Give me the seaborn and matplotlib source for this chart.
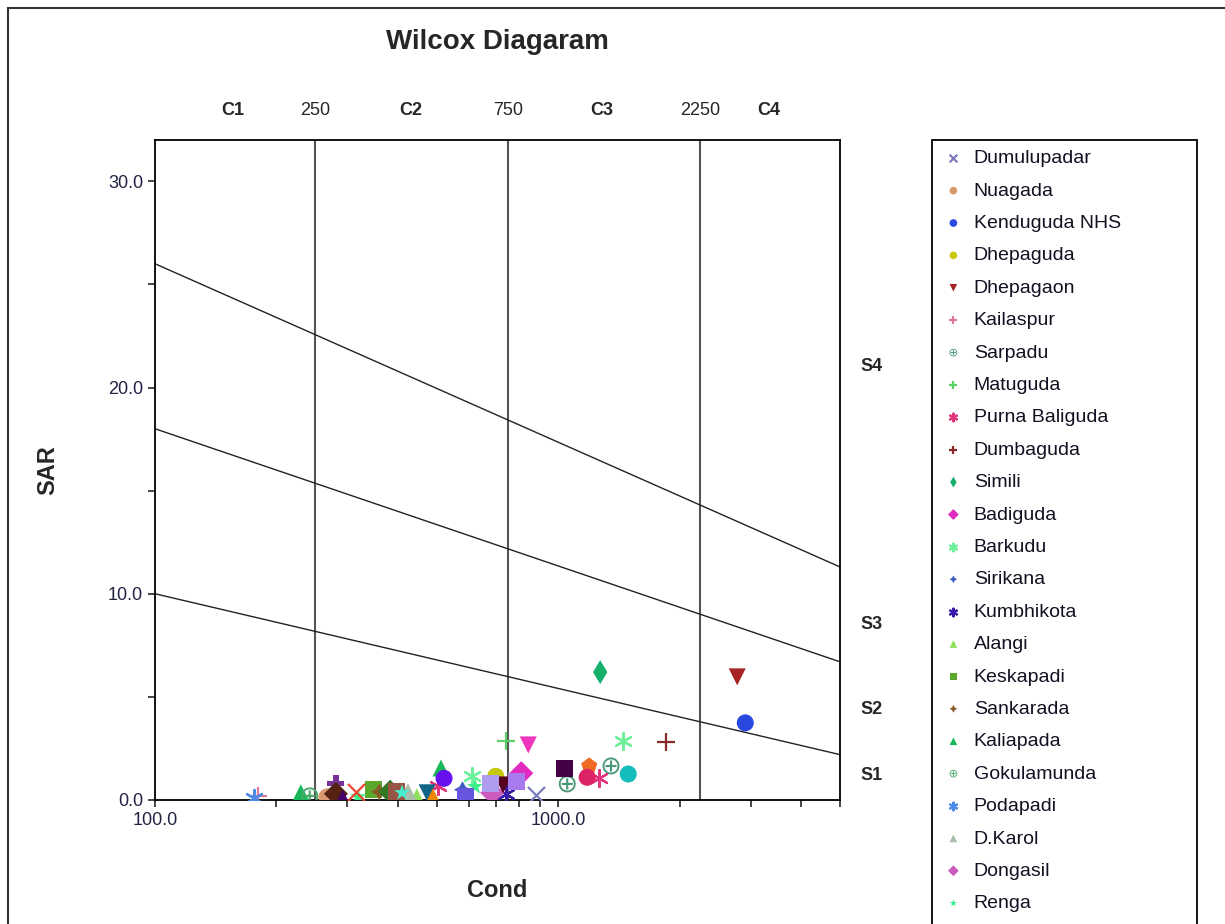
import numpy as np
import pandas as pd
import matplotlib
matplotlib.use("Agg")
import matplotlib.pyplot as plt
import matplotlib.ticker as mticker
from matplotlib.patches import Rectangle
import seaborn as sns

# Sites (legend order) and their samples: conductivity and SAR
sites = ['Dumulupadar', 'Nuagada', 'Kenduguda NHS', 'Dhepaguda', 'Dhepagaon',
         'Kailaspur', 'Sarpadu', 'Matuguda', 'Purna Baliguda', 'Dumbaguda',
         'Simili', 'Badiguda', 'Barkudu', 'Sirikana', 'Kumbhikota',
         'Alangi', 'Keskapadi', 'Sankarada', 'Kaliapada', 'Gokulamunda',
         'Podapadi', 'D.Karol', 'Dongasil', 'Renga', 'Satiguda',
         'Site 26', 'Site 27', 'Site 28', 'Site 29', 'Site 30', 'Site 31',
         'Site 32', 'Site 33', 'Site 34', 'Site 35', 'Site 36', 'Site 37',
         'Site 38', 'Site 39', 'Site 40', 'Site 41', 'Site 42', 'Site 43']
cond = [[882], [267], [2911], [700], [2780],
        [180], [1053, 1352], [743], [1260, 503], [1853],
        [1271], [810], [1449, 612], [579], [743],
        [446], [349], [360], [230, 512], [242],
        [176], [424], [686], [622, 319], [843],
        [1035], [1194], [1180], [1492], [730], [790],
        [680], [281], [281], [292], [315], [383],
        [398], [410], [473], [489], [521], [588]]
sar = [[0.24], [0.15], [3.74], [1.15], [5.97],
       [0.2], [0.78, 1.65], [2.86], [1.07, 0.7], [2.8],
       [6.2], [1.3], [2.86, 1.15], [0.5], [0.3],
       [0.15], [0.5], [0.4], [0.35, 1.55], [0.2],
       [0.1], [0.4], [0.35], [0.65, 0.15], [2.67],
       [1.55], [1.65], [1.1], [1.26], [0.73], [0.9],
       [0.8], [0.8], [0.3], [0.1], [0.4], [0.4],
       [0.4], [0.35], [0.35], [0.15], [1.05], [0.15]]

# Wilcox class limits
ec_bounds = [250, 750, 2250]
c_labels = ['C1', 'C2', 'C3', 'C4']
c_label_pos = [156, 430, 1285, 3320]
s_line_ec = [100, 5000]
s_line_sar = [[10, 2.2], [18, 6.7], [26, 11.3]]
s_labels = ['S1', 'S2', 'S3', 'S4']
s_label_pos = [1.2, 4.4, 8.5, 21.0]

ox = r'$\oplus$'
ast = (6, 2, 0)
star4 = (4, 1, 0)
styles = {
    'Dumulupadar': ('x', '#7b7bbd'), 'Nuagada': ('o', '#d99a70'),
    'Kenduguda NHS': ('o', '#2a47e0'), 'Dhepaguda': ('o', '#c8c80a'),
    'Dhepagaon': ('v', '#a82424'), 'Kailaspur': ('+', '#e07a9a'),
    'Sarpadu': (ox, '#4a9a7a'), 'Matuguda': ('+', '#5fcf6a'),
    'Purna Baliguda': (ast, '#e0357a'), 'Dumbaguda': ('+', '#8a2a2a'),
    'Simili': ('d', '#17b06a'), 'Badiguda': ('D', '#e02ac0'),
    'Barkudu': (ast, '#6cf09a'), 'Sirikana': (star4, '#3a5cc0'),
    'Kumbhikota': (ast, '#3a1aaa'), 'Alangi': ('^', '#8ce05a'),
    'Keskapadi': ('s', '#5aa82a'), 'Sankarada': (star4, '#8a5a2a'),
    'Kaliapada': ('^', '#18b85a'), 'Gokulamunda': (ox, '#4aa86a'),
    'Podapadi': (ast, '#4a8ae8'), 'D.Karol': ('^', '#aabcaa'),
    'Dongasil': ('D', '#cc5cbc'), 'Renga': ('*', '#3af08a'),
    'Satiguda': ('v', '#ee35bb'),
    'Site 26': ('s', '#440044'), 'Site 27': ('p', '#ee6a22'),
    'Site 28': ('o', '#dd2266'), 'Site 29': ('o', '#14bcbc'),
    'Site 30': ('v', '#550022'), 'Site 31': ('s', '#a77aee'),
    'Site 32': ('s', '#b09cee'), 'Site 33': ('P', '#773399'),
    'Site 34': ('D', '#552211'), 'Site 35': ('^', '#440066'),
    'Site 36': ('x', '#ee4433'), 'Site 37': ('D', '#337722'),
    'Site 38': ('s', '#995544'), 'Site 39': ('*', '#44eecc'),
    'Site 40': ('v', '#116688'), 'Site 41': ('^', '#ee8800'),
    'Site 42': ('o', '#6611ee'), 'Site 43': ('s', '#6655dd'),
}

sns.set_style('ticks')
plt.rcParams['font.family'] = ['Liberation Sans', 'DejaVu Sans']

fig = plt.figure(figsize=(12.25, 9.24), dpi=100)
ax = fig.add_axes([155 / 1225, 1 - 800 / 924, 685 / 1225, 660 / 924])

for site, xs, ys in zip(sites, cond, sar):
    mk, col = styles[site]
    df = pd.DataFrame({'Cond': xs, 'SAR': ys})
    if mk in ('x', '+') or mk == ast:
        sns.scatterplot(data=df, x='Cond', y='SAR', marker=mk, color=col,
                        s=150, linewidth=1.6, label=site, ax=ax, zorder=3)
    else:
        sns.scatterplot(data=df, x='Cond', y='SAR', marker=mk, color=col,
                        s=150, linewidth=0, edgecolor='none', label=site,
                        ax=ax, zorder=3)

for b in ec_bounds:
    ax.axvline(b, color='#555555', linewidth=1.5, zorder=2)
for ys in s_line_sar:
    ax.plot(s_line_ec, ys, color='#222222', linewidth=1.0, zorder=2)

ax.set_xscale('log')
ax.set_xlim(100, 5000)
ax.set_ylim(0, 32)
ax.xaxis.set_major_locator(mticker.FixedLocator([100, 1000]))
ax.xaxis.set_major_formatter(mticker.FormatStrFormatter('%.1f'))
ax.xaxis.set_minor_locator(mticker.LogLocator(base=10, subs=np.arange(2, 10)))
ax.xaxis.set_minor_formatter(mticker.NullFormatter())
ax.yaxis.set_major_locator(mticker.MultipleLocator(10))
ax.yaxis.set_major_formatter(mticker.FormatStrFormatter('%.1f'))
ax.yaxis.set_minor_locator(mticker.MultipleLocator(5))
ax.tick_params(which='both', direction='out', length=5, width=1.2,
               labelsize=13, labelcolor='#222244')
for sp in ax.spines.values():
    sp.set_linewidth(1.3)
    sp.set_color('black')

ax.set_xlabel('Cond', fontsize=17, fontweight='bold', labelpad=36)
ax.set_ylabel('SAR', fontsize=17, fontweight='bold', labelpad=35)

trans = ax.get_xaxis_transform()
for lab, xp in zip(c_labels, c_label_pos):
    ax.text(xp, 1.045, lab, transform=trans, ha='center', va='center',
            fontsize=13, fontweight='bold')
for b in ec_bounds:
    ax.text(b, 1.045, str(b), transform=trans, ha='center', va='center',
            fontsize=13)
strans = ax.get_yaxis_transform()
for lab, yp in zip(s_labels, s_label_pos):
    ax.text(1.03, yp, lab, transform=strans, ha='left', va='center',
            fontsize=13, fontweight='bold')

fig.text(497 / 1225, 1 - 42 / 924, 'Wilcox Diagaram', ha='center', va='center',
         fontsize=20, fontweight='bold')

leg = ax.legend(loc='upper left', bbox_to_anchor=(932 / 1225, 1 - 140 / 924),
                bbox_transform=fig.transFigure, fontsize=14, markerscale=0.45,
                frameon=False, labelspacing=0.76, handletextpad=0.45,
                borderpad=0.5, handlelength=1.2, borderaxespad=0)
for t in leg.get_texts():
    t.set_color('#111122')

# legend frame and outer border
fig.patches.append(Rectangle((932 / 1225, -0.2), 265 / 1225, 1.2 - 140 / 924,
                             transform=fig.transFigure, fill=False,
                             edgecolor='black', linewidth=1.3))
fig.patches.append(Rectangle((8 / 1225, -0.2), 1.2, 1.2 - 8 / 924,
                             transform=fig.transFigure, fill=False,
                             edgecolor='#333333', linewidth=1.5))

fig.savefig('out.png', dpi=100)
